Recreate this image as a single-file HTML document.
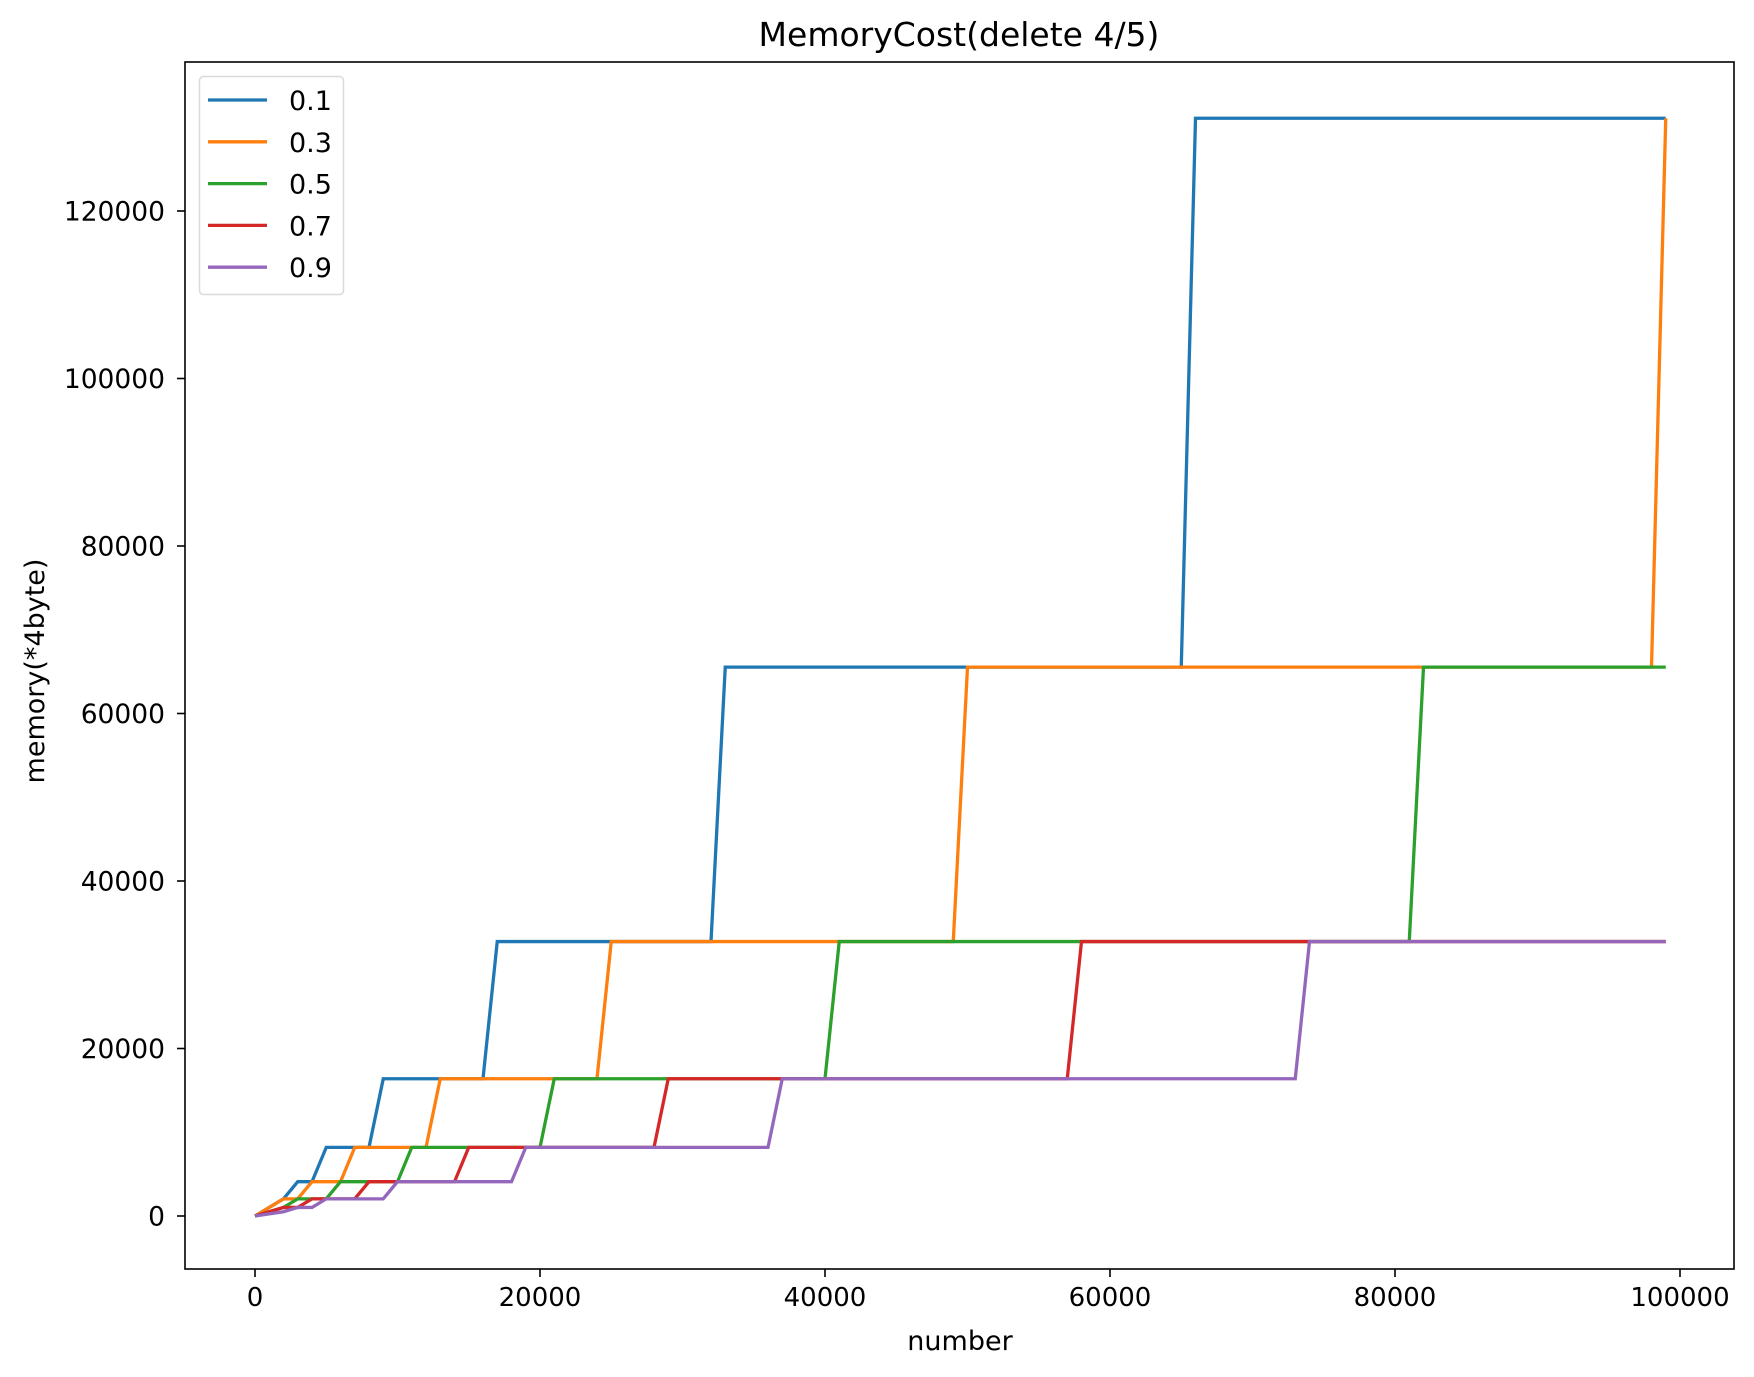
<!DOCTYPE html>
<html><head><meta charset="utf-8"><style>
html,body{margin:0;padding:0;background:#fff}
svg{display:block;font-family:"DejaVu Sans","Liberation Sans",sans-serif}
</style></head><body>
<svg id="chart" width="1754" height="1377" viewBox="0 0 1754 1377">
<rect x="0" y="0" width="1754" height="1377" fill="#fff"/>
<text x="959" y="46" font-size="33" text-anchor="middle">MemoryCost(delete 4/5)</text>
<g id="series"></g>
<rect x="185" y="62" width="1549" height="1207" fill="none" stroke="#000" stroke-width="1.6"/>
<g id="xticks"></g>
<g id="yticks"></g>
<text x="960" y="1350" font-size="27" text-anchor="middle">number</text>
<text transform="translate(44,671) rotate(-90)" font-size="27" text-anchor="middle">memory(*4byte)</text>
<g id="legend"></g>
</svg>
<script>
// data: step jumps (x in number, y in memory) for each series
const seriesNames = ["0.1","0.3","0.5","0.7","0.9"];
const seriesColors = ["#1f77b4","#ff7f0e","#2ca02c","#d62728","#9467bd"];
const stepX01 = [1000,2000,3000,5000,9000,17000,33000,66000];
const stepY01 = [1024,2048,4096,8192,16384,32768,65536,131072];
const stepX03 = [1000,2000,4000,7000,13000,25000,50000,99000];
const stepY03 = [1024,2048,4096,8192,16384,32768,65536,131072];
const stepX05 = [1000,2000,3000,6000,11000,21000,41000,82000];
const stepY05 = [512,1024,2048,4096,8192,16384,32768,65536];
const stepX07 = [1000,2000,4000,8000,15000,29000,58000];
const stepY07 = [512,1024,2048,4096,8192,16384,32768];
const stepX09 = [1000,2000,3000,5000,10000,19000,37000,74000];
const stepY09 = [256,512,1024,2048,4096,8192,16384,32768];
const xTicks = [0,20000,40000,60000,80000,100000];
const yTicks = [0,20000,40000,60000,80000,100000,120000];
const sampleStep = 1000, sampleMax = 99000;

const NS = "http://www.w3.org/2000/svg";
const X0 = 255, X1 = 1680, Y0 = 1216, Y1 = 211;
function xs(v){ return X0 + (X1 - X0) * v / 100000; }
function ys(v){ return Y0 - (Y0 - Y1) * v / 120000; }
function mk(tag, attrs, parent){ const e = document.createElementNS(NS, tag); for (const k in attrs) e.setAttribute(k, attrs[k]); parent.appendChild(e); return e; }

const allX = [stepX01, stepX03, stepX05, stepX07, stepX09];
const allY = [stepY01, stepY03, stepY05, stepY07, stepY09];
const sg = document.getElementById("series");
allX.forEach((sx, i) => {
  const sy = allY[i];
  const pts = [];
  for (let n = 0; n <= sampleMax; n += sampleStep) {
    let v = 0;
    for (let j = 0; j < sx.length; j++) if (n >= sx[j]) v = sy[j];
    pts.push(xs(n).toFixed(2) + "," + ys(v).toFixed(2));
  }
  const p = mk("polyline", {points: pts.join(" "), fill: "none", stroke: seriesColors[i], "stroke-width": 3.3, "stroke-linejoin": "miter"}, sg);
  
  
});

const xt = document.getElementById("xticks");
xTicks.forEach(t => {
  const l = mk("line", {x1: xs(t), x2: xs(t), y1: 1269, y2: 1277, stroke: "#000", "stroke-width": 1.6}, xt);
  
  
  const tx = mk("text", {x: xs(t), y: 1306, "font-size": 26, "text-anchor": "middle"}, xt);
  tx.textContent = t;
  
  
});
const yt = document.getElementById("yticks");
yTicks.forEach(t => {
  const l = mk("line", {x1: 177, x2: 185, y1: ys(t), y2: ys(t), stroke: "#000", "stroke-width": 1.6}, yt);
  
  
  const tx = mk("text", {x: 165, y: ys(t) + 9.5, "font-size": 26.5, "text-anchor": "end"}, yt);
  tx.textContent = t;
  
  
});

const lg = document.getElementById("legend");
const box = mk("rect", {x: 199.5, y: 76.5, width: 144, height: 218, rx: 4, fill: "#fff", stroke: "#d6d6d6", "stroke-width": 1.5, opacity: 0.9}, lg);


seriesNames.forEach((nm, i) => {
  const y = 100 + i * 41.8;
  const l = mk("line", {x1: 208, x2: 267, y1: y, y2: y, stroke: seriesColors[i], "stroke-width": 3.3}, lg);
  
  
  const t = mk("text", {x: 289, y: y + 10, "font-size": 27}, lg);
  t.textContent = nm;
  
  
});
</script>
</body></html>
